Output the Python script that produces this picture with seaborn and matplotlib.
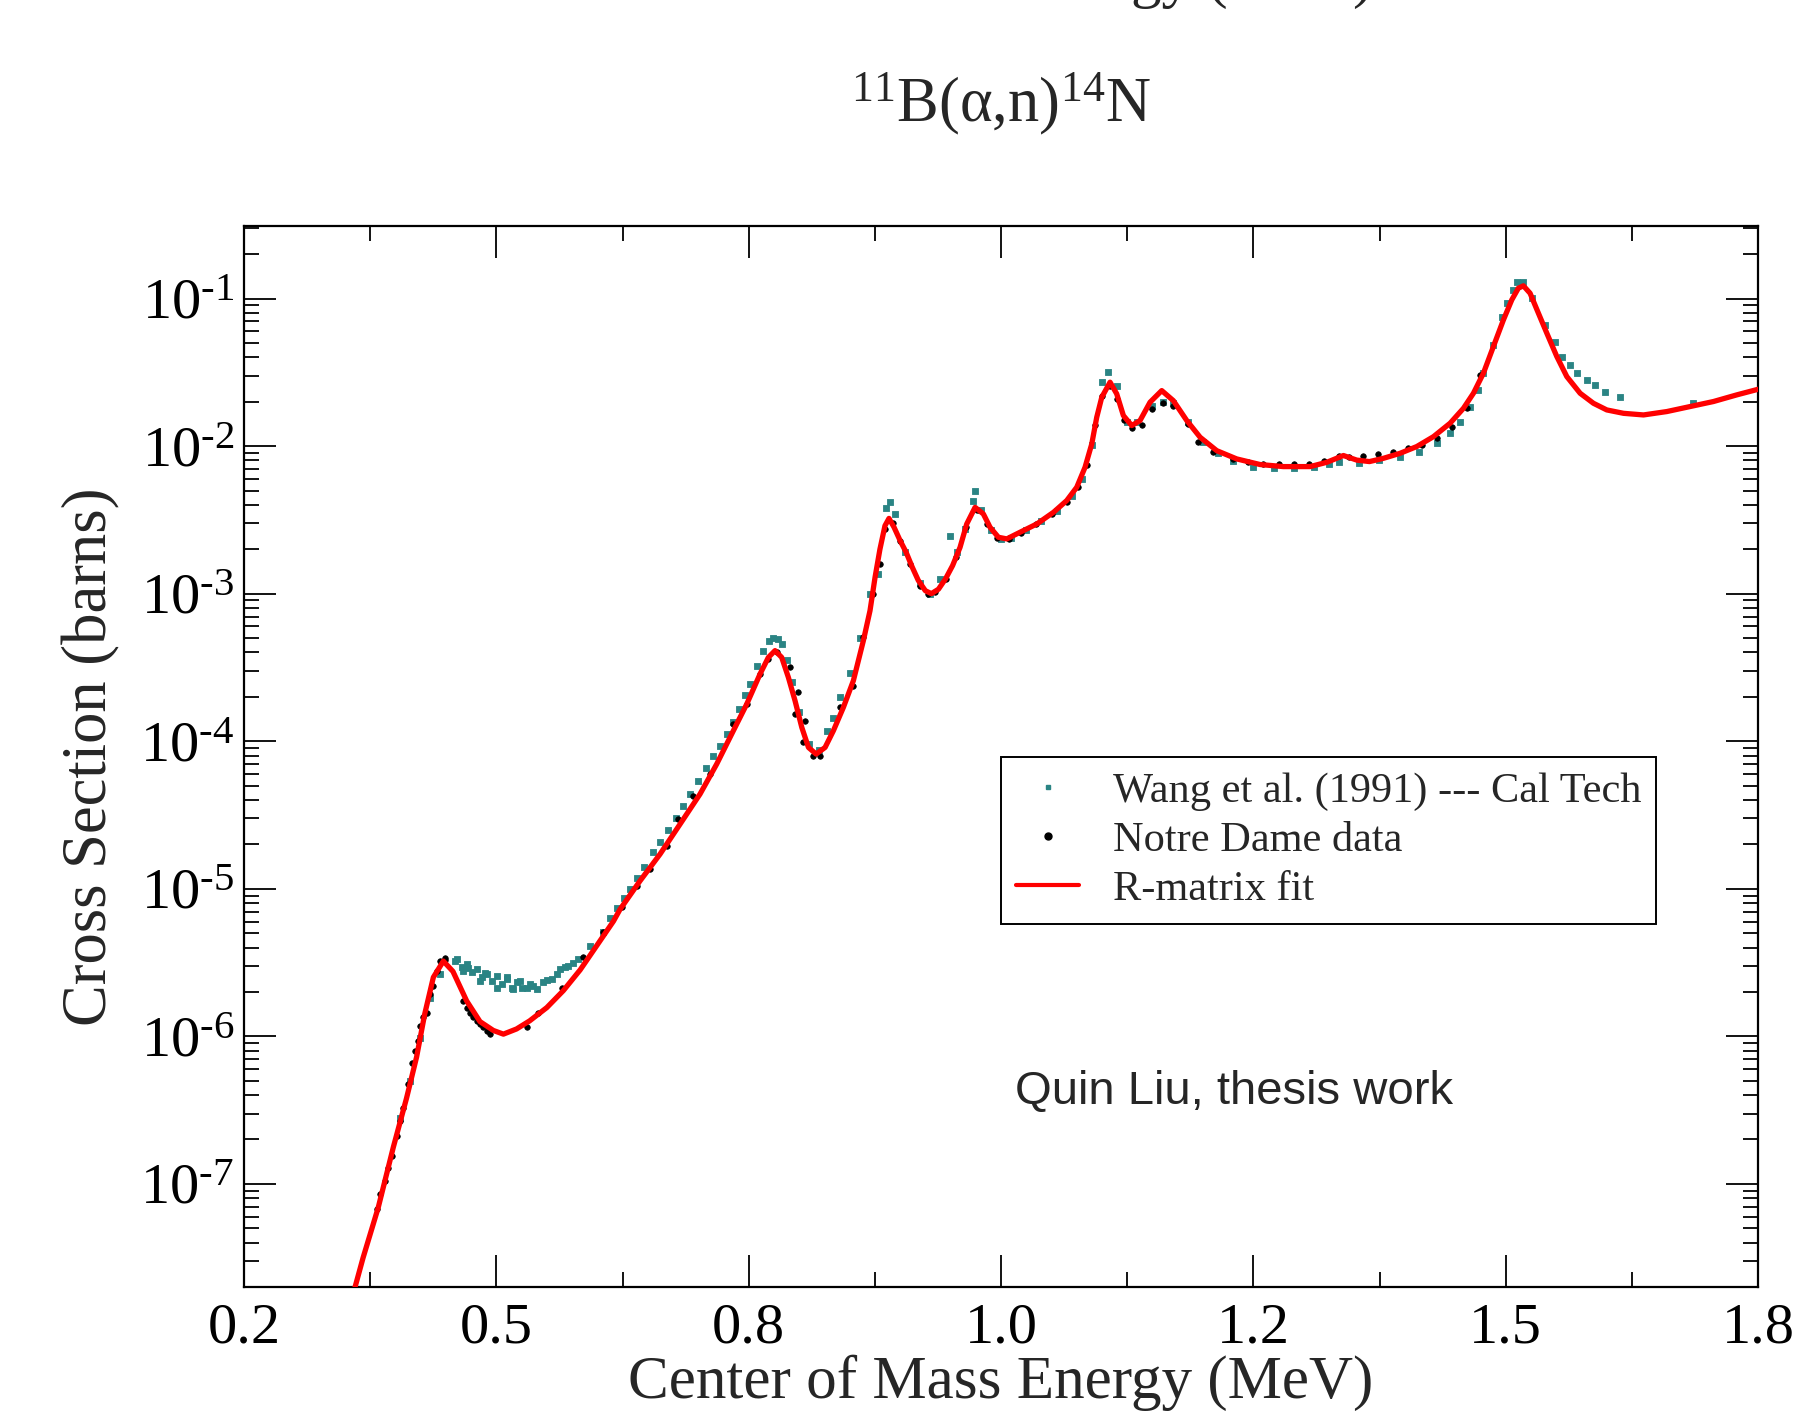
import numpy as np
import pandas as pd
import matplotlib
matplotlib.use("Agg")
import matplotlib.pyplot as plt
from matplotlib import ticker
from matplotlib.lines import Line2D
import seaborn as sns

# ---------------------------------------------------------------
# 11B(alpha,n)14N cross section vs. centre-of-mass energy
# cross sections stored as log10(sigma / barn)
# ---------------------------------------------------------------

# Wang et al. (1991), Cal Tech
wang_energy = [
    0.4046, 0.4145, 0.4244, 0.4343, 0.4442, 0.4590, 0.4607, 0.4657, 0.4673, 0.4706,
    0.4722, 0.4756, 0.4805, 0.4838, 0.4855, 0.4888, 0.4904, 0.4954, 0.5004, 0.5004,
    0.5053, 0.5103, 0.5103, 0.5152, 0.5169, 0.5202, 0.5235, 0.5251, 0.5301, 0.5334,
    0.5367, 0.5400, 0.5466, 0.5499, 0.5548, 0.5598, 0.5631, 0.5680, 0.5713, 0.5763,
    0.5812, 0.5928, 0.6060, 0.6130, 0.6193, 0.6260, 0.6324, 0.6390, 0.6460, 0.6555,
    0.6620, 0.6700, 0.6780, 0.6850, 0.6919, 0.7000, 0.7080, 0.7150, 0.7220, 0.7283,
    0.7340, 0.7400, 0.7460, 0.7513, 0.7580, 0.7645, 0.7700, 0.7744, 0.7790, 0.7827,
    0.7876, 0.7930, 0.8000, 0.8100, 0.8200, 0.8273, 0.8339, 0.8405, 0.8504, 0.8603,
    0.8702, 0.8785, 0.8860, 0.8900, 0.8950, 0.9050, 0.9200, 0.9300, 0.9400, 0.9490,
    0.9560, 0.9640, 0.9726, 0.9743, 0.9800, 0.9900, 1.0000, 1.0100, 1.0250, 1.0400,
    1.0550, 1.0700, 1.0800, 1.0900, 1.0998, 1.1064, 1.1146, 1.1250, 1.1350, 1.1500,
    1.1600, 1.1700, 1.1850, 1.2000, 1.2150, 1.2300, 1.2500, 1.2700, 1.2900, 1.3100,
    1.3250, 1.3352, 1.3550, 1.3748, 1.3953, 1.4143, 1.4317, 1.4449, 1.4548, 1.4647,
    1.4730, 1.4779, 1.4878, 1.4961, 1.5010, 1.5076, 1.5109, 1.5168, 1.5258, 1.5390,
    1.5489, 1.5555, 1.5638, 1.5704, 1.5803, 1.5886, 1.5985, 1.6134, 1.6860,
]
wang_log_sigma = [
    -6.55, -6.30, -6.01, -5.74, -5.58, -5.488, -5.477, -5.533, -5.556, -5.511,
    -5.538, -5.567, -5.545, -5.624, -5.601, -5.574, -5.578, -5.624, -5.590, -5.669,
    -5.646, -5.612, -5.597, -5.669, -5.680, -5.635, -5.624, -5.669, -5.669, -5.646,
    -5.658, -5.680, -5.635, -5.620, -5.612, -5.578, -5.545, -5.533, -5.522, -5.500,
    -5.477, -5.386, -5.29, -5.20, -5.13, -5.06, -5.00, -4.93, -4.85, -4.75,
    -4.68, -4.60, -4.52, -4.44, -4.36, -4.27, -4.18, -4.10, -4.03, -3.95,
    -3.87, -3.78, -3.69, -3.61, -3.49, -3.39, -3.32, -3.30, -3.31, -3.34,
    -3.45, -3.60, -3.80, -4.02, -4.06, -3.93, -3.84, -3.70, -3.54, -3.30,
    -3.00, -2.87, -2.42, -2.38, -2.46, -2.72, -2.93, -3.00, -2.90, -2.61,
    -2.72, -2.56, -2.369, -2.302, -2.43, -2.57, -2.63, -2.62, -2.57, -2.51,
    -2.44, -2.34, -2.22, -1.99, -1.567, -1.500, -1.590, -1.84, -1.84, -1.73,
    -1.70, -1.71, -1.84, -1.97, -2.05, -2.10, -2.14, -2.15, -2.15, -2.14,
    -2.12, -2.105, -2.117, -2.094, -2.071, -2.037, -1.981, -1.913, -1.834, -1.732,
    -1.619, -1.506, -1.314, -1.122, -1.032, -0.941, -0.885, -0.885, -0.998, -1.179,
    -1.292, -1.393, -1.450, -1.506, -1.551, -1.585, -1.631, -1.669, -1.710,
]

# Notre Dame data
nd_energy = [
    0.3815, 0.3847, 0.3897, 0.3930, 0.3963, 0.4013, 0.4046, 0.4078, 0.4128, 0.4161,
    0.4194, 0.4227, 0.4244, 0.4277, 0.4310, 0.4343, 0.4376, 0.4409, 0.4442, 0.4490,
    0.4492, 0.4673, 0.4706, 0.4739, 0.4772, 0.4805, 0.4838, 0.4871, 0.4904, 0.4937,
    0.5301, 0.5416, 0.5648, 0.5862, 0.6060, 0.6242, 0.6391, 0.6523, 0.6688, 0.6803,
    0.6952, 0.7117, 0.7348, 0.7481, 0.7613, 0.7695, 0.7778, 0.7910, 0.7992, 0.7959,
    0.8058, 0.8042, 0.8141, 0.8207, 0.8405, 0.8537, 0.8636, 0.8735, 0.8800, 0.8850,
    0.8930, 0.9000, 0.9100, 0.9200, 0.9280, 0.9350, 0.9450, 0.9550, 0.9650, 0.9760,
    0.9860, 0.9960, 1.0080, 1.0200, 1.0350, 1.0500, 1.0650, 1.0760, 1.0850, 1.0930,
    1.1000, 1.1080, 1.1150, 1.1220, 1.1300, 1.1400, 1.1500, 1.1600, 1.1700, 1.1850,
    1.1956, 1.2100, 1.2300, 1.2450, 1.2600, 1.2750, 1.2900, 1.3050, 1.3200, 1.3350,
    1.3451, 1.3590, 1.3738, 1.3887, 1.4036, 1.4168, 1.4317, 1.4466, 1.4614, 1.4746,
]
nd_log_sigma = [
    -7.172, -7.07, -6.980, -6.889, -6.810, -6.675, -6.573, -6.483, -6.324, -6.178,
    -6.098, -6.031, -5.929, -5.872, -5.839, -5.714, -5.658, -5.556, -5.488, -5.47,
    -5.484, -5.759, -5.805, -5.839, -5.872, -5.895, -5.918, -5.940, -5.963, -5.985,
    -5.940, -5.839, -5.669, -5.465, -5.296, -5.126, -4.980, -4.867, -4.708, -4.528,
    -4.369, -4.222, -3.884, -3.748, -3.544, -3.443, -3.398, -3.500, -3.669, -3.816,
    -3.861, -4.008, -4.098, -4.098, -3.771, -3.624, -3.296, -3.002, -2.80, -2.56,
    -2.52, -2.64, -2.80, -2.95, -3.00, -2.99, -2.90, -2.75, -2.55, -2.43,
    -2.53, -2.62, -2.63, -2.59, -2.53, -2.46, -2.38, -2.28, -2.13, -1.86,
    -1.66, -1.59, -1.68, -1.82, -1.88, -1.86, -1.75, -1.71, -1.73, -1.85,
    -1.974, -2.04, -2.09, -2.11, -2.12, -2.12, -2.12, -2.12, -2.10, -2.07,
    -2.071, -2.067, -2.056, -2.037, -2.015, -1.992, -1.947, -1.868, -1.744, -1.518,
]

# R-matrix fit
fit_energy = [
    0.352, 0.360, 0.368, 0.383, 0.398, 0.411, 0.421, 0.429, 0.4376, 0.4475,
    0.457, 0.4706, 0.4838, 0.497, 0.507, 0.520, 0.533, 0.550, 0.5664, 0.583,
    0.600, 0.616, 0.6225, 0.6424, 0.6622, 0.682, 0.7018, 0.7183, 0.7348, 0.7481,
    0.7613, 0.7695, 0.7761, 0.7827, 0.7893, 0.7959, 0.8026, 0.8092, 0.8168, 0.8257,
    0.8339, 0.8438, 0.8537, 0.8636, 0.8702, 0.8752, 0.8800, 0.8850, 0.8890, 0.8940,
    0.9000, 0.9060, 0.9120, 0.9180, 0.9250, 0.9310, 0.9380, 0.9450, 0.9520, 0.9594,
    0.966, 0.9743, 0.9825, 0.9891, 0.9974, 1.0057, 1.0188, 1.0354, 1.0519, 1.0651,
    1.0750, 1.0832, 1.0899, 1.0948, 1.0998, 1.1080, 1.1146, 1.1212, 1.1295, 1.1377,
    1.1476, 1.1592, 1.1707, 1.1840, 1.1972, 1.2137, 1.2335, 1.2566, 1.2797, 1.3062,
    1.3227, 1.3392, 1.3524, 1.3650, 1.3788, 1.3953, 1.4119, 1.4284, 1.4449, 1.4581,
    1.4680, 1.4779, 1.4878, 1.4977, 1.5060, 1.5125, 1.5175, 1.5241, 1.5324, 1.5407,
    1.5506, 1.5605, 1.5737, 1.5869, 1.6001, 1.6167, 1.6365, 1.6596, 1.6827, 1.7058,
    1.7289, 1.7500,
]
fit_log_sigma = [
    -7.90, -7.70, -7.50, -7.16, -6.75, -6.42, -6.14, -5.85, -5.60, -5.49,
    -5.56, -5.76, -5.90, -5.96, -5.985, -5.95, -5.895, -5.805, -5.69, -5.55,
    -5.38, -5.22, -5.14, -4.946, -4.765, -4.562, -4.358, -4.155, -3.929, -3.748,
    -3.544, -3.432, -3.386, -3.432, -3.567, -3.725, -3.906, -4.042, -4.087, -4.042,
    -3.929, -3.771, -3.590, -3.319, -3.115, -2.889, -2.70, -2.54, -2.49, -2.55,
    -2.64, -2.72, -2.82, -2.91, -2.98, -3.00, -2.97, -2.90, -2.81, -2.686,
    -2.528, -2.415, -2.460, -2.550, -2.618, -2.629, -2.584, -2.528, -2.449, -2.369,
    -2.279, -2.144, -1.985, -1.805, -1.669, -1.567, -1.646, -1.793, -1.861, -1.827,
    -1.703, -1.624, -1.692, -1.827, -1.940, -2.031, -2.087, -2.125, -2.139, -2.139,
    -2.110, -2.064, -2.095, -2.105, -2.083, -2.049, -2.003, -1.936, -1.845, -1.744,
    -1.642, -1.506, -1.325, -1.145, -1.009, -0.930, -0.914, -0.964, -1.100, -1.235,
    -1.393, -1.529, -1.642, -1.710, -1.755, -1.778, -1.789, -1.766, -1.732, -1.698,
    -1.653, -1.615,
]

# decades labelled on the cross-section axis
y_decades = [-7, -6, -5, -4, -3, -2, -1]

wang_df = pd.DataFrame({"energy": wang_energy, "sigma": np.power(10.0, wang_log_sigma)})
nd_df = pd.DataFrame({"energy": nd_energy, "sigma": np.power(10.0, nd_log_sigma)})
fit_df = pd.DataFrame({"energy": fit_energy, "sigma": np.power(10.0, fit_log_sigma)})

TEAL = "#2a8484"
RED = "#ff0000"

sns.set_theme(style="ticks")
plt.rcParams["font.family"] = ["Liberation Serif", "DejaVu Serif"]
plt.rcParams["mathtext.fontset"] = "custom"
plt.rcParams["mathtext.rm"] = "Liberation Serif"
plt.rcParams["mathtext.it"] = "Liberation Serif:italic"
plt.rcParams["mathtext.bf"] = "Liberation Serif:bold"
plt.rcParams["axes.linewidth"] = 1.6

fig = plt.figure(figsize=(17.98, 14.25), dpi=100)
ax = fig.add_axes([0.1357, 0.0968, 0.9778 - 0.1357, 0.8414 - 0.0968])

sns.scatterplot(data=wang_df, x="energy", y="sigma", ax=ax, marker="s", s=14,
                color=TEAL, edgecolor=TEAL, linewidth=0.6, zorder=2)
sns.scatterplot(data=nd_df, x="energy", y="sigma", ax=ax, marker="o", s=16,
                color="black", edgecolor="black", linewidth=0.5, zorder=3)
sns.lineplot(data=fit_df, x="energy", y="sigma", ax=ax, estimator=None, sort=False,
             color=RED, linewidth=3.8, zorder=4)

ax.set_yscale("log")
ax.set_xlim(0.25, 1.75)
ax.set_ylim(2.0e-8, 0.31)

ax.xaxis.set_major_locator(ticker.MultipleLocator(0.25))
ax.xaxis.set_minor_locator(ticker.MultipleLocator(0.125))
ax.xaxis.set_major_formatter(ticker.FormatStrFormatter("%.1f"))
ax.yaxis.set_major_locator(ticker.FixedLocator([10.0 ** d for d in y_decades]))
ax.yaxis.set_minor_locator(ticker.LogLocator(base=10, subs=np.arange(2, 10), numticks=20))
ax.yaxis.set_minor_formatter(ticker.NullFormatter())
ax.yaxis.set_major_formatter(ticker.FuncFormatter(
    lambda v, pos: r"$10^{\text{-}%d}$" % int(round(-np.log10(v)))))

ax.tick_params(which="both", direction="in", top=True, right=True, colors="black",
               labelsize=42)
ax.tick_params(which="major", length=23, width=1.3)
ax.tick_params(which="minor", length=11, width=1.3)
ax.tick_params(axis="x", which="major", pad=11)
ax.tick_params(axis="y", which="major", pad=7)
for spine in ax.spines.values():
    spine.set_color("black")
    spine.set_linewidth(1.6)

ax.set_xlabel("Center of Mass Energy (MeV)", fontsize=44, labelpad=0)
ax.set_ylabel("Cross Section (barns)", fontsize=45, labelpad=14)

# reaction label above the frame
fig.text(0.5567, 0.915, r"$^{11}$B(α,n)$^{14}$N", ha="center", va="baseline",
         fontsize=45)
# heading of the panel above, only its lowest strokes fall inside the page
fig.text(0.5567, 1.0 + 4 / 1425, "Center of Mass Energy (MeV)", ha="center",
         va="baseline", fontsize=44)

ax.text(0.509, 0.184, "Quin Liu, thesis work", transform=ax.transAxes,
        family=["Liberation Sans", "DejaVu Sans"], fontsize=34, va="center", ha="left")

handles = [
    Line2D([], [], linestyle="none", marker="s", markersize=2.5, color=TEAL),
    Line2D([], [], linestyle="none", marker="o", markersize=5, color="black"),
    Line2D([], [], color=RED, linewidth=3),
]
labels = ["Wang et al. (1991) --- Cal Tech", "Notre Dame data", "R-matrix fit"]
leg = ax.legend(handles, labels, loc="upper left", bbox_to_anchor=(0.5, 0.4995),
                fontsize=30.5, frameon=True, fancybox=False, framealpha=1,
                edgecolor="black", handlelength=1.5, handletextpad=0.8,
                borderpad=0.35, labelspacing=0.25, borderaxespad=0)
leg.get_frame().set_linewidth(1.4)

fig.savefig("out.png", dpi=100, facecolor="white")
